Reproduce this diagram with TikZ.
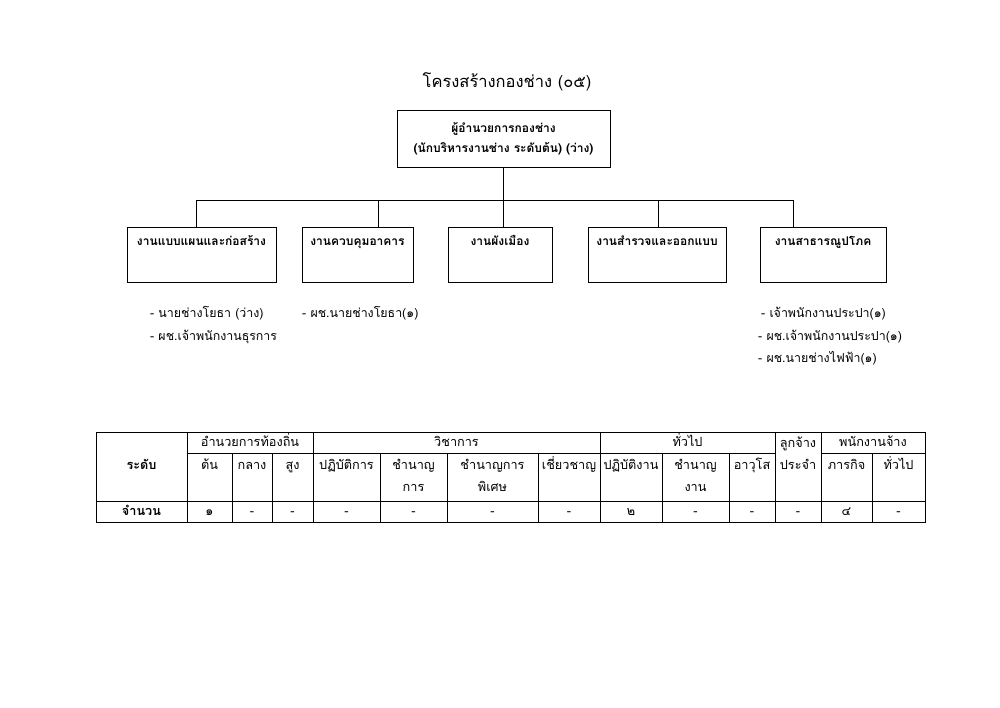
\documentclass[tikz,border=0pt]{standalone}
\usepackage{fontspec}
\setmainfont[Script=Thai]{Loma}
\usetikzlibrary{positioning}

\begin{document}
\begin{tikzpicture}[
    x=1pt, y=-1pt,
    every node/.style={font=\fontsize{12.4}{20}\selectfont},
    box/.style={rectangle, draw, line width=1pt, align=center, inner sep=4pt, font=\fontsize{12}{20}\selectfont\bfseries},
    unit/.style={box, anchor=north, text height=14pt, text depth=33pt},
    link/.style={line width=1pt},
    item/.style={anchor=base west, inner sep=0pt},
    grid/.style={line width=0.8pt},
    cell/.style={anchor=base, inner sep=0pt, align=center, font=\fontsize{12.7}{22}\selectfont},
    hcell/.style={cell, font=\fontsize{12.7}{22}\selectfont\bfseries},
]
\useasboundingbox (0,0) rectangle (1000,707);

% title and head of division
\node (title) at (507,82) {\fontsize{16.5}{22}\selectfont โครงสร้างกองช่าง (๐๕)};
\node[box, minimum width=213, minimum height=57] (head) at (503.5,138.5) {ผู้อำนวยการกองช่าง\\(นักบริหารงานช่าง ระดับต้น) (ว่าง)};

% work units
\node[unit, minimum width=149] (plan)   at (201.5,227) {งานแบบแผนและก่อสร้าง};
\node[unit, minimum width=111] (ctrl)   at (357.5,227) {งานควบคุมอาคาร};
\node[unit, minimum width=104] (city)   at (500,227)   {งานผังเมือง};
\node[unit, minimum width=138] (survey) at (657,227)   {งานสำรวจและออกแบบ};
\node[unit, minimum width=126] (util)   at (823,227)   {งานสาธารณูปโภค};

% connectors (drops are not at the box centres)
\coordinate (barL) at (196,200);
\coordinate (barR) at (793,200);
\coordinate (drop2) at (378,200);
\coordinate (drop4) at (658,200);
\draw[link] (barL) -- (barR);
\draw[link] (head.south) -- (head.south |- city.north);
\draw[link] (barL) -- (barL |- plan.north);
\draw[link] (drop2) -- (drop2 |- ctrl.north);
\draw[link] (drop4) -- (drop4 |- survey.north);
\draw[link] (barR) -- (barR |- util.north);

% staff lists
\node[item] (plan1) at (150,317) {- นายช่างโยธา (ว่าง)};
\node[item] (plan2) at (150,340) {- ผช.เจ้าพนักงานธุรการ};
\node[item] (ctrl1) at (302,317) {- ผช.นายช่างโยธา(๑)};
\node[item] (util1) at (761,317) {- เจ้าพนักงานประปา(๑)};
\node[item] (util2) at (758,340) {- ผช.เจ้าพนักงานประปา(๑)};
\node[item] (util3) at (758,362) {- ผช.นายช่างไฟฟ้า(๑)};

% table grid
\draw[grid] (96,432) rectangle (925,522);
\draw[grid] (187,453) -- (775,453) (821,453) -- (925,453);
\draw[grid] (96,501) -- (925,501);
\draw[grid] (187,432) -- (187,522) (313,432) -- (313,522) (600,432) -- (600,522)
            (775,432) -- (775,522) (821,432) -- (821,522);
\draw[grid] (232,453) -- (232,522) (272,453) -- (272,522) (380,453) -- (380,522)
            (447,453) -- (447,522) (538,453) -- (538,522) (662,453) -- (662,522)
            (729,453) -- (729,522) (872,453) -- (872,522);

% table header
\node[hcell] (lvl)   at (141.5,469) {ระดับ};
\node[cell] (gadm)   at (250,446)   {อำนวยการท้องถิ่น};
\node[cell] (gacad)  at (456.5,446) {วิชาการ};
\node[cell] (ggen)   at (687.5,446) {ทั่วไป};
\node[cell] (gperm)  at (798,469)   {ลูกจ้าง\\ประจำ};
\node[cell] (gcont)  at (873,446)   {พนักงานจ้าง};
\node[cell] (hc1)  at (209.5,469) {ต้น};
\node[cell] (hc2)  at (252,469)   {กลาง};
\node[cell] (hc3)  at (292.5,469) {สูง};
\node[cell] (hc4)  at (346.5,469) {ปฏิบัติการ};
\node[cell] (hc5)  at (413.5,491) {ชำนาญ\\การ};
\node[cell] (hc6)  at (492.5,491) {ชำนาญการ\\พิเศษ};
\node[cell] (hc7)  at (569,469)   {เชี่ยวชาญ};
\node[cell] (hc8)  at (631,469)   {ปฏิบัติงาน};
\node[cell] (hc9)  at (695.5,491) {ชำนาญ\\งาน};
\node[cell] (hc10) at (752,469)   {อาวุโส};
\node[cell] (hc12) at (846.5,469) {ภารกิจ};
\node[cell] (hc13) at (898.5,469) {ทั่วไป};

% counts
\node[hcell] (cnt)  at (141.5,515) {จำนวน};
\node[cell] (n1)  at (209.5,515) {๑};
\node[cell] (n2)  at (252,515)   {-};
\node[cell] (n3)  at (292.5,515) {-};
\node[cell] (n4)  at (346.5,515) {-};
\node[cell] (n5)  at (413.5,515) {-};
\node[cell] (n6)  at (492.5,515) {-};
\node[cell] (n7)  at (569,515)   {-};
\node[cell] (n8)  at (631,515)   {๒};
\node[cell] (n9)  at (695.5,515) {-};
\node[cell] (n10) at (752,515)   {-};
\node[cell] (n11) at (798,515)   {-};
\node[cell] (n12) at (846.5,515) {๔};
\node[cell] (n13) at (898.5,515) {-};

\end{tikzpicture}
\end{document}
